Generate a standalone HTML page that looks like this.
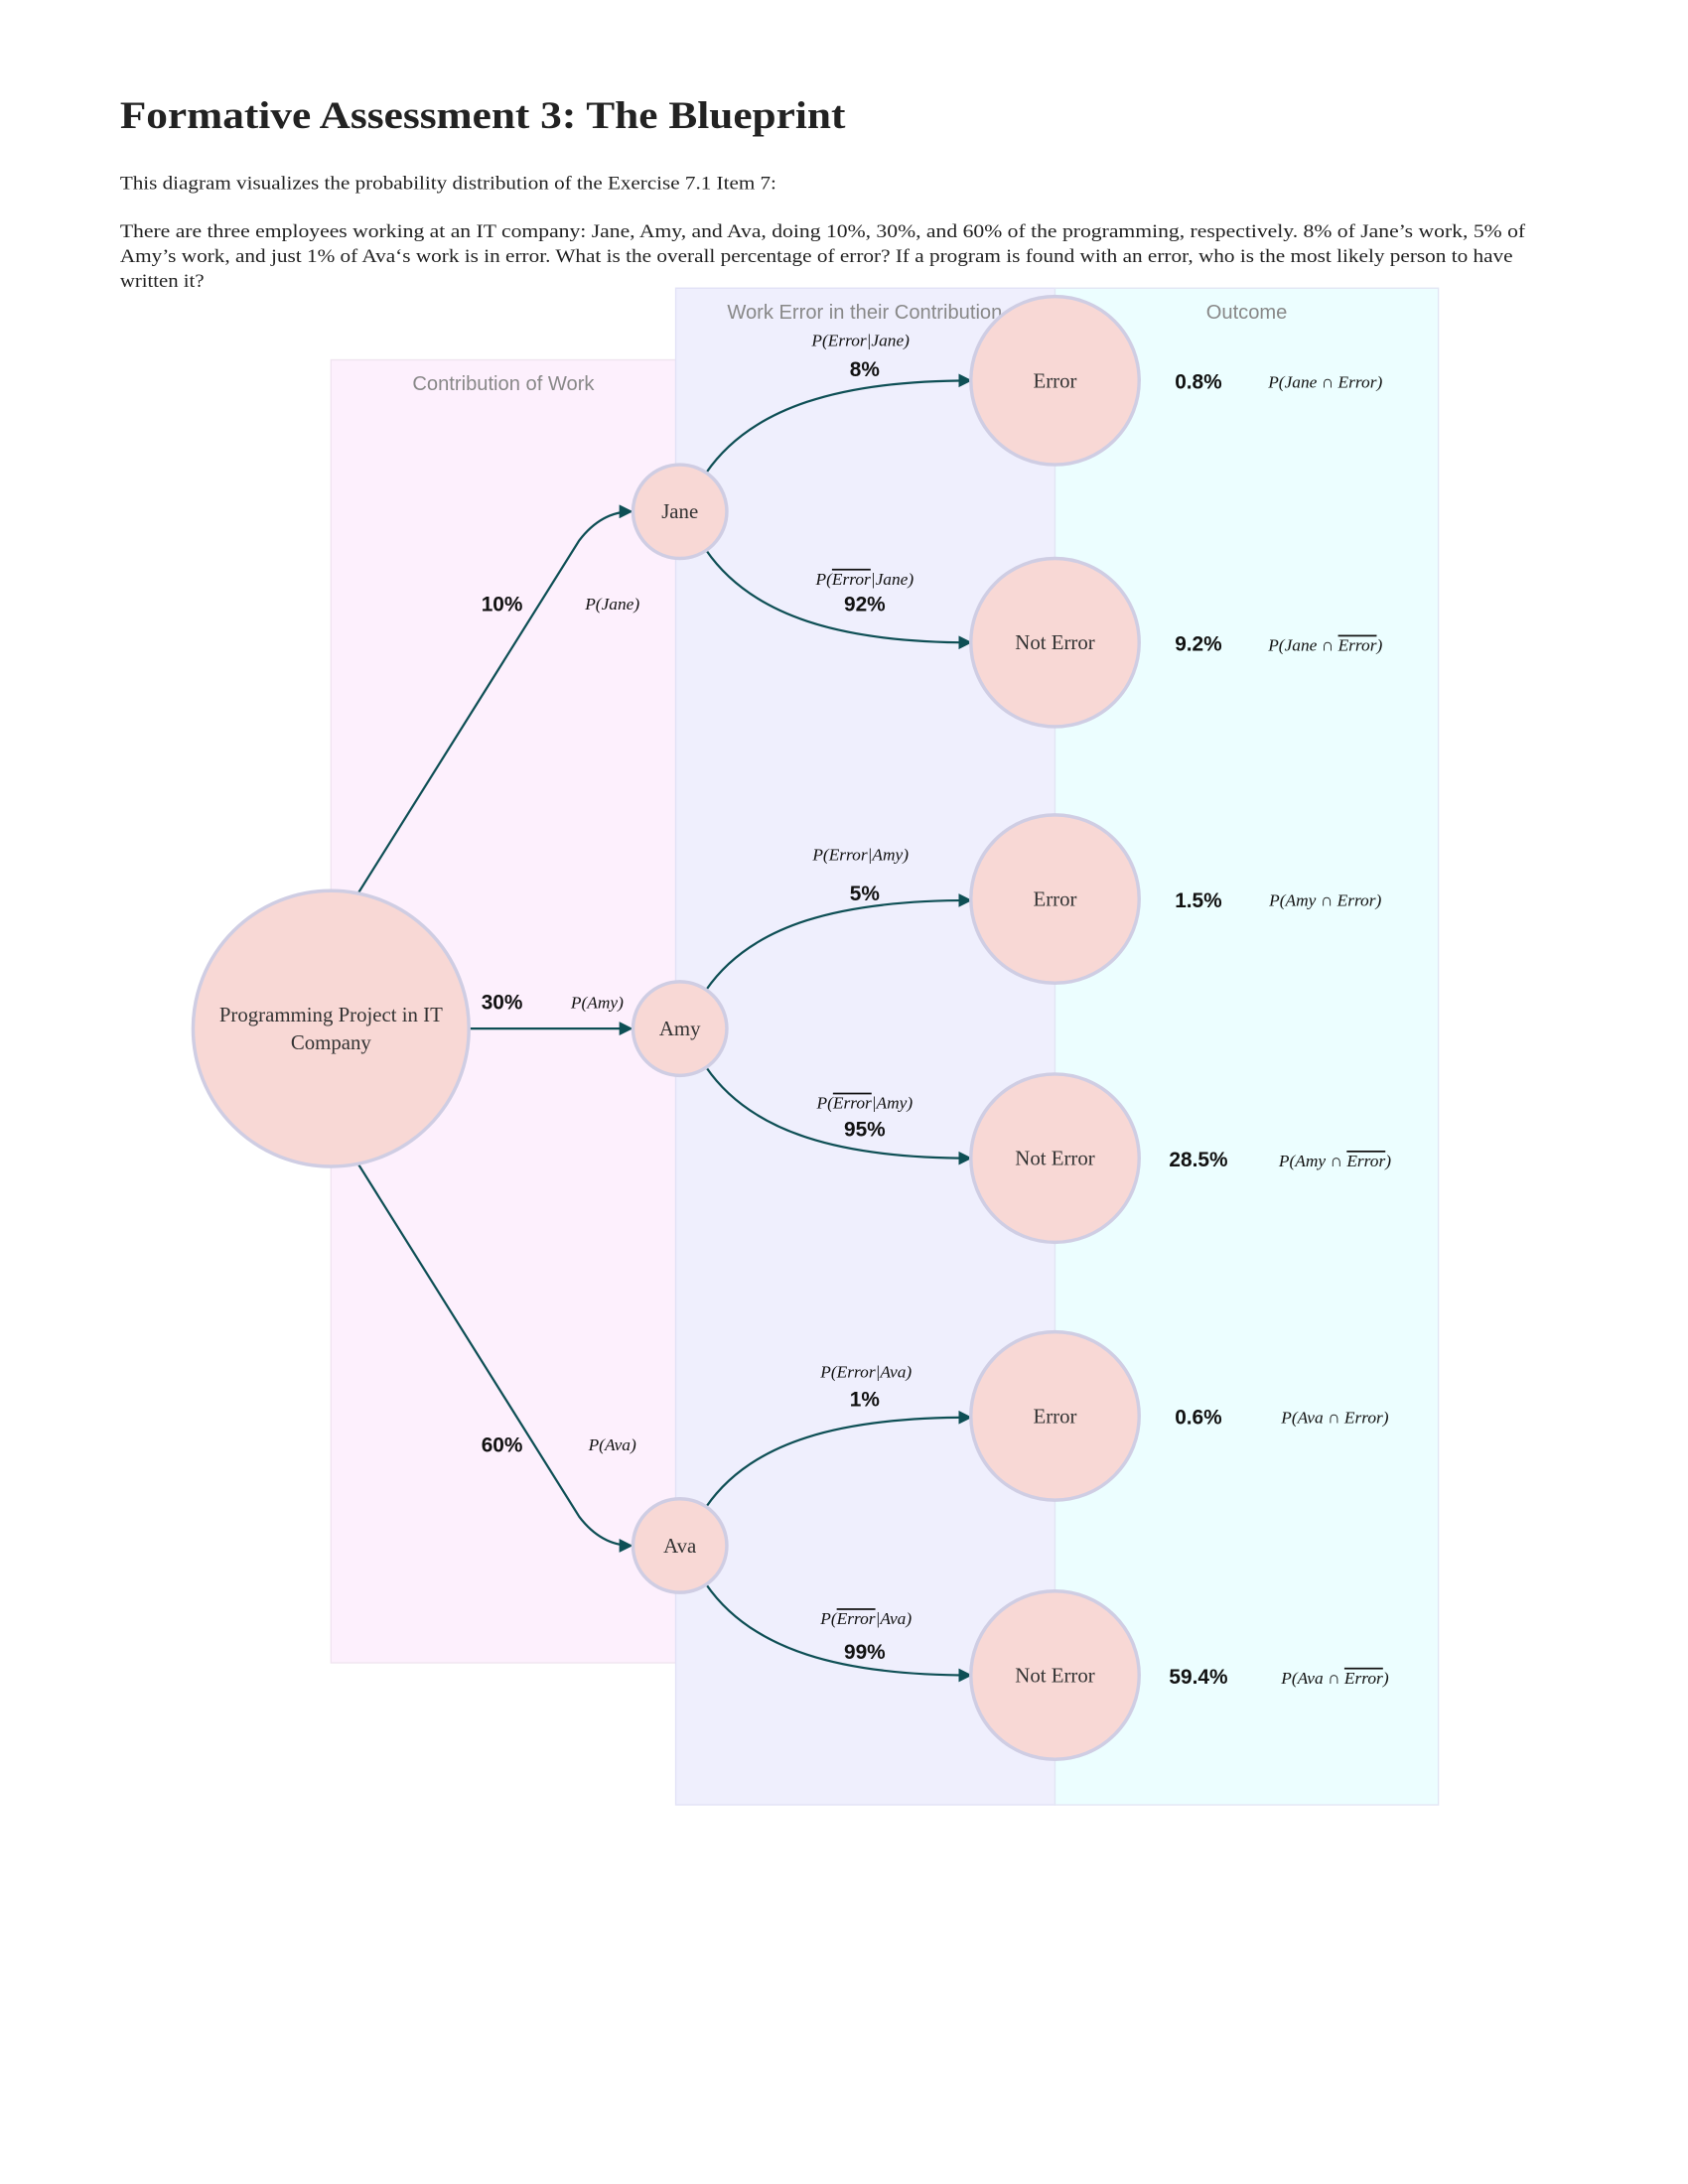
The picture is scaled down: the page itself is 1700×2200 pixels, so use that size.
<!DOCTYPE html>
<html><head><meta charset="utf-8"><style>
html,body{margin:0;padding:0;background:#fff;}
svg{display:block;}
.t{font-family:"Liberation Serif",serif;fill:#222;}
.m{font-family:"Liberation Serif",serif;font-style:italic;font-size:12.5px;fill:#111;text-anchor:middle;}
.p{font-family:"Liberation Sans",sans-serif;font-weight:bold;font-size:15px;fill:#111;text-anchor:middle;}
.n{fill:#f8d8d5;stroke:#cfcde3;stroke-width:2.5;}
.nl{font-family:"Liberation Serif",serif;font-size:15px;fill:#333;text-anchor:middle;}
.e{fill:none;stroke:#0e4f55;stroke-width:1.6;}
.ol{text-decoration:overline;}
.h{font-family:"Liberation Sans",sans-serif;font-size:14.5px;fill:#888;text-anchor:middle;}
</style></head><body>
<svg width="1700" height="2200" viewBox="0 0 1224 1584" xmlns="http://www.w3.org/2000/svg">
<defs><marker id="a" markerWidth="10" markerHeight="10" refX="9" refY="5" orient="auto" markerUnits="userSpaceOnUse"><path d="M0,0 L10,5 L0,10 z" fill="#0e4f55"/></marker></defs>
<text class="t" x="87" y="93" font-size="28.5" font-weight="bold" fill="#111" textLength="526" lengthAdjust="spacingAndGlyphs">Formative Assessment 3: The Blueprint</text>
<text class="t" x="87" y="137" font-size="13.6" textLength="476" lengthAdjust="spacingAndGlyphs">This diagram visualizes the probability distribution of  the Exercise 7.1 Item 7:</text>
<text class="t" x="87" y="172" font-size="13.6" textLength="1019" lengthAdjust="spacingAndGlyphs">There are three employees working at an IT company: Jane, Amy, and Ava, doing 10%, 30%, and 60% of  the programming, respectively. 8% of  Jane’s work, 5% of</text>
<text class="t" x="87" y="190" font-size="13.6" textLength="1010" lengthAdjust="spacingAndGlyphs">Amy’s work, and just 1% of  Ava‘s work is in error. What is the overall percentage of  error? If  a program is found with an error, who is the most likely person to have</text>
<text class="t" x="87" y="208" font-size="13.6" textLength="61" lengthAdjust="spacingAndGlyphs">written it?</text>

<rect x="240" y="261" width="250" height="945" fill="#fdf0fd" stroke="#f0e4f0"/>
<rect x="490" y="209" width="275" height="1100" fill="#efeffd" stroke="#e2e2f6"/>
<rect x="765" y="209" width="278" height="1100" fill="#ecfeff" stroke="#e2e6f4"/>
<text class="h" x="365" y="283">Contribution of Work</text>
<text class="h" x="627" y="231">Work Error in their Contribution</text>
<text class="h" x="904" y="231">Outcome</text>

<path class="e" marker-end="url(#a)" d="M259,649 L420,392 Q436,371 458,371"/>
<path class="e" marker-end="url(#a)" d="M340,746 L458,746"/>
<path class="e" marker-end="url(#a)" d="M259,843 L420,1100 Q436,1121 458,1121"/>
<path class="e" marker-end="url(#a)" d="M512,343 C545,295 610,276 704,276"/>
<path class="e" marker-end="url(#a)" d="M512,399 C545,447 610,466 704,466"/>
<path class="e" marker-end="url(#a)" d="M512,718 C545,670 610,653 704,653"/>
<path class="e" marker-end="url(#a)" d="M512,774 C545,822 610,840 704,840"/>
<path class="e" marker-end="url(#a)" d="M512,1093 C545,1045 610,1028 704,1028"/>
<path class="e" marker-end="url(#a)" d="M512,1149 C545,1197 610,1215 704,1215"/>

<circle class="n" cx="240" cy="746" r="100"/>
<text class="nl" x="240" y="741">Programming Project in IT</text>
<text class="nl" x="240" y="761">Company</text>
<circle class="n" cx="493" cy="371" r="34"/><text class="nl" x="493" y="376">Jane</text>
<circle class="n" cx="493" cy="746" r="34"/><text class="nl" x="493" y="751">Amy</text>
<circle class="n" cx="493" cy="1121" r="34"/><text class="nl" x="493" y="1126">Ava</text>
<circle class="n" cx="765" cy="276" r="61"/><text class="nl" x="765" y="281">Error</text>
<circle class="n" cx="765" cy="466" r="61"/><text class="nl" x="765" y="471">Not Error</text>
<circle class="n" cx="765" cy="652" r="61"/><text class="nl" x="765" y="657">Error</text>
<circle class="n" cx="765" cy="840" r="61"/><text class="nl" x="765" y="845">Not Error</text>
<circle class="n" cx="765" cy="1027" r="61"/><text class="nl" x="765" y="1032">Error</text>
<circle class="n" cx="765" cy="1215" r="61"/><text class="nl" x="765" y="1220">Not Error</text>

<text class="p" x="364" y="443">10%</text><text class="m" x="444" y="442">P(Jane)</text>
<text class="p" x="364" y="732">30%</text><text class="m" x="433" y="731">P(Amy)</text>
<text class="p" x="364" y="1053">60%</text><text class="m" x="444" y="1052">P(Ava)</text>

<text class="m" x="624" y="251">P(Error|Jane)</text><text class="p" x="627" y="273">8%</text>
<text class="m" x="627" y="424">P(<tspan class="ol">Error</tspan>|Jane)</text><text class="p" x="627" y="443">92%</text>
<text class="m" x="624" y="624">P(Error|Amy)</text><text class="p" x="627" y="653">5%</text>
<text class="m" x="627" y="804">P(<tspan class="ol">Error</tspan>|Amy)</text><text class="p" x="627" y="824">95%</text>
<text class="m" x="628" y="999">P(Error|Ava)</text><text class="p" x="627" y="1020">1%</text>
<text class="m" x="628" y="1178">P(<tspan class="ol">Error</tspan>|Ava)</text><text class="p" x="627" y="1203">99%</text>

<text class="p" x="869" y="282">0.8%</text><text class="m" x="961" y="281">P(Jane ∩ Error)</text>
<text class="p" x="869" y="472">9.2%</text><text class="m" x="961" y="472">P(Jane ∩ <tspan class="ol">Error</tspan>)</text>
<text class="p" x="869" y="658">1.5%</text><text class="m" x="961" y="657">P(Amy ∩ Error)</text>
<text class="p" x="869" y="846">28.5%</text><text class="m" x="968" y="846">P(Amy ∩ <tspan class="ol">Error</tspan>)</text>
<text class="p" x="869" y="1033">0.6%</text><text class="m" x="968" y="1032">P(Ava ∩ Error)</text>
<text class="p" x="869" y="1221">59.4%</text><text class="m" x="968" y="1221">P(Ava ∩ <tspan class="ol">Error</tspan>)</text>
</svg>
</body></html>
